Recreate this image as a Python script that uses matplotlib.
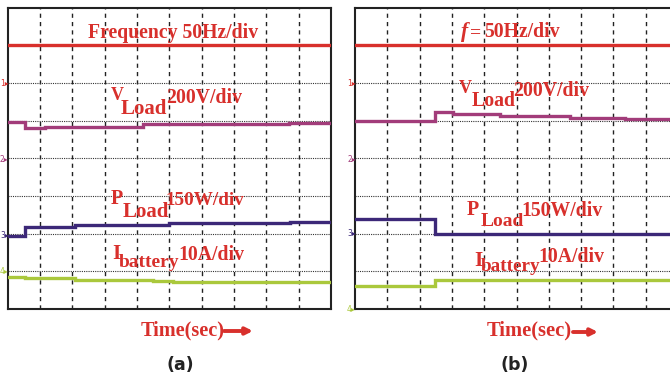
import numpy as np
import matplotlib
matplotlib.use('Agg')
import matplotlib.pyplot as plt
from matplotlib.patches import FancyArrowPatch

W, H = 670, 378

# trace data, in scope divisions (x: 10 div, y: 8 div)
freq_a_t = [0, 10]
freq_a = [7.0, 7.0]
vload_a_t = [0, 0.54, 1.16, 4.19, 8.7, 10]
vload_a = [4.97, 4.79, 4.84, 4.90, 4.93, 4.93]
pload_a_t = [0, 0.54, 2.09, 5.0, 8.73, 10]
pload_a = [1.94, 2.18, 2.23, 2.28, 2.31, 2.31]
ibat_a_t = [0, 0.54, 2.09, 4.5, 5.12, 10]
ibat_a = [0.84, 0.81, 0.77, 0.75, 0.72, 0.72]

freq_b_t = [0, 10]
freq_b = [7.0, 7.0]
vload_b_t = [0, 2.47, 3.03, 4.48, 6.65, 8.35, 10]
vload_b = [4.99, 5.23, 5.18, 5.13, 5.07, 5.04, 5.04]
pload_b_t = [0, 2.47, 10]
pload_b = [2.39, 1.99, 1.99]
ibat_b_t = [0, 2.47, 10]
ibat_b = [0.62, 0.78, 0.78]

RED = '#d8302c'
MAG = '#a23c7a'
NAVY = '#3c2878'
GRN = '#aac83c'

plt.rcParams['font.family'] = ['Liberation Serif', 'DejaVu Serif']

fig = plt.figure(figsize=(W / 100, H / 100), dpi=100)


def px(x, y):
    # pixel position (from top-left) -> figure fraction
    return x / W, 1 - y / H


def scope_axes(left, right):
    ax = fig.add_axes([left / W, (H - 309) / H, (right - left) / W, 301.5 / H])
    ax.set_xlim(0, 10)
    ax.set_ylim(0, 8)
    ax.set_xticks([])
    ax.set_yticks([])
    for s in ax.spines.values():
        s.set_linewidth(1.5)
        s.set_color('#222222')
    for k in range(1, 10):
        ax.axvline(k, color='#222222', lw=1.0, ls=(0, (3, 3)), zorder=1)
    for k in range(1, 8):
        ax.axhline(k, color='#333333', lw=0.8, ls=(0, (1, 1)), zorder=1)
    return ax


def trace(ax, t, v, color):
    ax.step(t, v, where='post', color=color, lw=2.4, zorder=3,
            solid_joinstyle='miter')


def label(x, y, s, size=14.5, **kw):
    fig.text(*px(x, y), s, color=RED, fontsize=size, fontweight='bold',
             va='baseline', ha='left', **kw)


def arrow(x0, x1, y):
    fig.patches.append(FancyArrowPatch(px(x0, y), px(x1, y),
                                       transform=fig.transFigure,
                                       arrowstyle='-|>', mutation_scale=10,
                                       color=RED, lw=2.8,
                                       shrinkA=0, shrinkB=0))


def markers(x, ys, colors):
    for n, (y, c) in enumerate(zip(ys, colors), start=1):
        fig.text(*px(x, y), f'{n}\u25b8', color=c, fontsize=5.5,
                 family='DejaVu Sans', va='center', ha='left')


# ---- panel (a) ----
ax1 = scope_axes(7.5, 331)
trace(ax1, freq_a_t, freq_a, RED)
trace(ax1, vload_a_t, vload_a, MAG)
trace(ax1, pload_a_t, pload_a, NAVY)
trace(ax1, ibat_a_t, ibat_a, GRN)

label(88, 37.7, 'Frequency 50Hz/div', size=14.2)
label(111, 100, 'V', size=13)
label(121, 114, 'Load', size=15)
label(166, 103, '200V/div', size=14.2)
label(111, 204, 'P', size=14.5)
label(123, 217, 'Load', size=15)
label(166, 205, '150W/div', size=13.8)
label(112, 259, 'I', size=15)
label(119, 267, 'battery', size=14)
label(178, 260, '10A/div', size=14.2)
label(141, 335, 'Time(sec)', size=14.6)
arrow(224, 253, 331)
fig.text(*px(180, 370), '(a)', fontsize=12.5, fontweight='bold',
         family='DejaVu Sans', color='#222222', ha='center', va='baseline')
markers(0, [83, 159, 235, 271], [RED, MAG, NAVY, GRN])

# ---- panel (b) ----
ax2 = scope_axes(355, 678)
trace(ax2, freq_b_t, freq_b, RED)
trace(ax2, vload_b_t, vload_b, MAG)
trace(ax2, pload_b_t, pload_b, NAVY)
trace(ax2, ibat_b_t, ibat_b, GRN)

label(461, 37.3, 'f', size=15.5, style='italic')
label(470, 37.3, '=', size=14)
label(484, 37.3, '50Hz/div', size=14.2)
label(459, 93, 'V', size=13)
label(472, 106, 'Load', size=14.3)
label(513, 96, '200V/div', size=14.2)
label(467, 215, 'P', size=14.5)
label(481, 226, 'Load', size=14)
label(521, 216, '150W/div', size=14.2)
label(474, 266, 'I', size=15.5)
label(481, 271, 'battery', size=13.8)
label(538, 262, '10A/div', size=14.2)
label(487, 335, 'Time(sec)', size=14.8)
arrow(573, 598, 332)
fig.text(*px(515, 370), '(b)', fontsize=12.5, fontweight='bold',
         family='DejaVu Sans', color='#222222', ha='center', va='baseline')
markers(347, [83, 159, 233, 310], [RED, MAG, NAVY, GRN])

fig.savefig('out.png', dpi=100)
